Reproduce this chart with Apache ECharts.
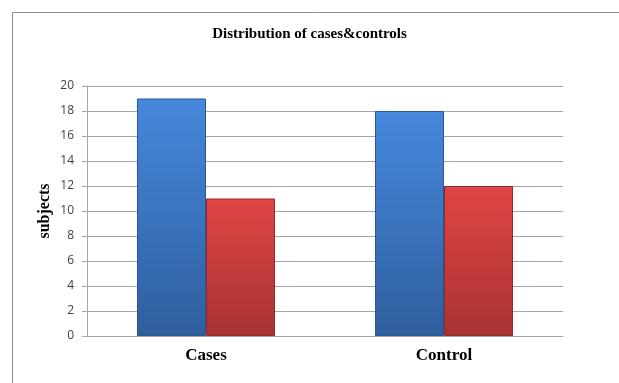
<!DOCTYPE html>
<html>
<head>
<meta charset="utf-8">
<script src="https://cdn.jsdelivr.net/npm/echarts@6/dist/echarts.min.js"></script>
<style>
  html, body { margin: 0; padding: 0; background: #fff; }
  #chart { width: 619px; height: 383px; }
</style>
</head>
<body>
<div id="chart"></div>
<script>
var categories = ['Cases', 'Control'];
var blueValues = [19, 18];
var redValues = [11, 12];

function barColor(top, bottom) {
  return new echarts.graphic.LinearGradient(0, 0, 0, 1, [
    { offset: 0, color: top },
    { offset: 1, color: bottom }
  ]);
}

var chart = echarts.init(document.getElementById('chart'));
chart.setOption({
  animation: false,
  backgroundColor: '#fff',
  title: {
    text: 'Distribution of cases&controls',
    left: 'center',
    top: 22,
    textStyle: {
      fontFamily: 'Liberation Serif',
      fontWeight: 'bold',
      fontSize: 15,
      color: '#000'
    }
  },
  graphic: [
    {
      type: 'rect',
      shape: { x: 12.5, y: 12.5, width: 700, height: 500 },
      style: { fill: null, stroke: '#8c8c8c', lineWidth: 1 },
      silent: true
    }
  ],
  grid: { left: 87, right: 56, top: 86, bottom: 47 },
  xAxis: {
    type: 'category',
    data: categories,
    axisLine: { lineStyle: { color: '#a6a6a6' } },
    axisTick: { show: false },
    axisLabel: {
      margin: 11,
      fontFamily: 'Liberation Serif',
      fontWeight: 'bold',
      fontSize: 17,
      color: '#000'
    }
  },
  yAxis: {
    type: 'value',
    min: 0,
    max: 20,
    interval: 2,
    name: 'subjects',
    nameLocation: 'middle',
    nameRotate: 90,
    nameGap: 34,
    nameMoveOverlap: false,
    nameTextStyle: {
      fontFamily: 'Liberation Serif',
      fontWeight: 'bold',
      fontSize: 16,
      color: '#000'
    },
    axisLine: { show: true, lineStyle: { color: '#a6a6a6' } },
    axisTick: { show: true, length: 5, lineStyle: { color: '#a6a6a6' } },
    axisLabel: {
      margin: 13,
      fontFamily: 'Open Sans',
      fontSize: 12,
      color: '#404040'
    },
    splitLine: { lineStyle: { color: '#a6a6a6' } }
  },
  series: [
    {
      type: 'bar',
      data: blueValues,
      barGap: '0%',
      barCategoryGap: '42%',
      itemStyle: {
        color: barColor('#4688dc', '#2f5e9e'),
        borderColor: '#2b5690',
        borderWidth: 1
      }
    },
    {
      type: 'bar',
      data: redValues,
      itemStyle: {
        color: barColor('#e04545', '#a83232'),
        borderColor: '#8e2a2a',
        borderWidth: 1
      }
    }
  ]
});
</script>
</body>
</html>
